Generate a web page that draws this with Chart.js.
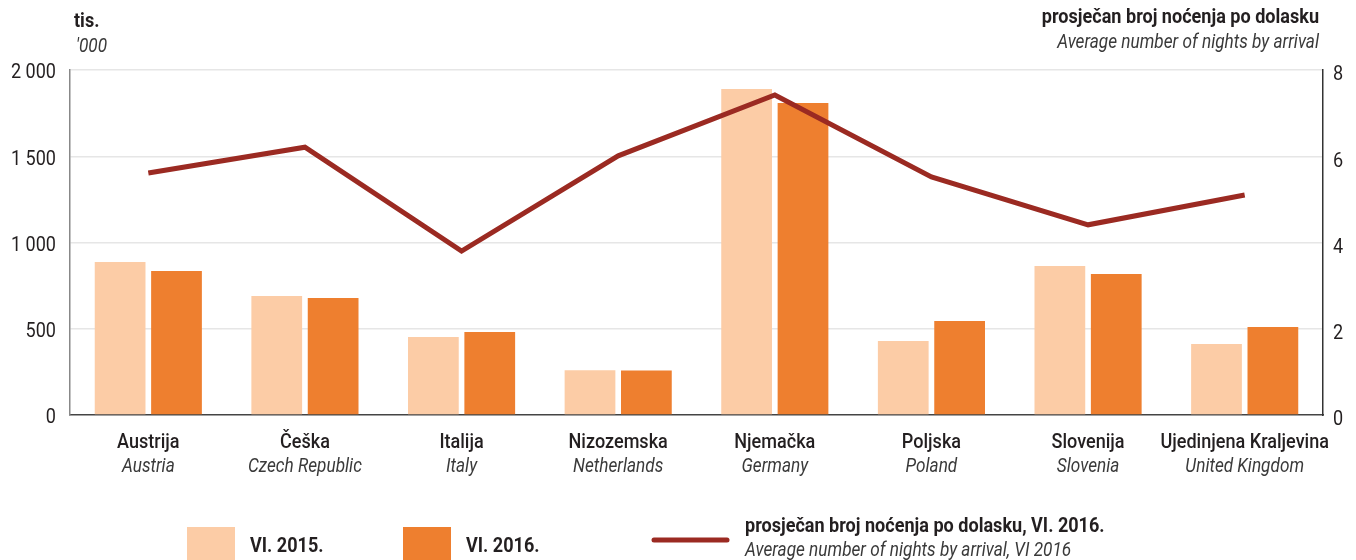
<!DOCTYPE html>
<html>
<head>
<meta charset="utf-8">
<script src="https://cdn.jsdelivr.net/npm/chart.js@4"></script>
<style>
  html, body { margin: 0; padding: 0; background: #fff; }
  #wrap { width: 1356px; height: 560px; position: relative; }
</style>
</head>
<body>
<div id="wrap"><canvas id="chart" width="1356" height="560"></canvas></div>
<script>
const categories = ['Austrija', 'Češka', 'Italija', 'Nizozemska', 'Njemačka', 'Poljska', 'Slovenija', 'Ujedinjena Kraljevina'];
const categoriesEn = ['Austria', 'Czech Republic', 'Italy', 'Netherlands', 'Germany', 'Poland', 'Slovenia', 'United Kingdom'];
const arrivals2015 = [887, 690, 452, 260, 1890, 429, 864, 412];
const arrivals2016 = [835, 678, 481, 258, 1809, 545, 817, 510];
const nightsPerArrival = [5.61, 6.21, 3.80, 6.01, 7.42, 5.52, 4.41, 5.10];
const leftTicks = [0, 500, 1000, 1500, 2000];
const rightTicks = [0, 2, 4, 6, 8];

const FONT = "Roboto, 'DejaVu Sans Condensed', sans-serif";
const TEXT = '#231f20';
const SUB = '#3a3a3a';
const LIGHT = '#fccca6';
const DARK = '#ee7f2f';
const LINE = '#9b2a22';
const SQUEEZE = 0.86;

function fmt(v) {
    return String(v).replace(/\B(?=(\d{3})+(?!\d))/g, ' ');
}

// condensed-looking text: squeeze horizontally
function txt(ctx, s, x, y, font, align, color) {
    ctx.save();
    ctx.translate(x, y);
    ctx.scale(SQUEEZE, 1);
    ctx.font = font;
    ctx.textAlign = align;
    ctx.textBaseline = 'middle';
    ctx.fillStyle = color || TEXT;
    ctx.fillText(s, 0, 0);
    ctx.restore();
}

// tick labels, x labels in two lines, axis titles and the legend
const decorations = {
    id: 'decorations',
    afterDraw(chart) {
        const ctx = chart.ctx;
        const x = chart.scales.x;
        const y = chart.scales.y;
        const y1 = chart.scales.y1;
        const area = chart.chartArea;

        leftTicks.forEach(v => {
            txt(ctx, fmt(v), 56, y.getPixelForValue(v) + 3, '21px ' + FONT, 'right');
        });
        rightTicks.forEach(v => {
            txt(ctx, String(v), 1333, y1.getPixelForValue(v) + 5, '21px ' + FONT, 'left');
        });

        categories.forEach((c, i) => {
            const px = x.getPixelForValue(i);
            txt(ctx, c, px, area.bottom + 28, '500 21px ' + FONT, 'center');
            txt(ctx, categoriesEn[i], px, area.bottom + 52, 'italic 20px ' + FONT, 'center', SUB);
        });

        // axis titles
        txt(ctx, 'tis.', 74, 22, 'bold 21px ' + FONT, 'left');
        txt(ctx, "'000", 76, 47, 'italic 20px ' + FONT, 'left', SUB);
        txt(ctx, 'prosječan broj noćenja po dolasku', 1319, 18, 'bold 21px ' + FONT, 'right');
        txt(ctx, 'Average number of nights by arrival', 1319, 43, 'italic 20px ' + FONT, 'right', SUB);

        // legend
        const ds = chart.data.datasets;
        ctx.save();
        ctx.fillStyle = ds[0].backgroundColor;
        ctx.fillRect(187, 527, 48, 40);
        ctx.fillStyle = ds[1].backgroundColor;
        ctx.fillRect(403, 527, 48, 40);
        ctx.strokeStyle = ds[2].borderColor;
        ctx.lineWidth = 5;
        ctx.lineCap = 'round';
        ctx.beginPath();
        ctx.moveTo(654, 540);
        ctx.lineTo(727, 540);
        ctx.stroke();
        ctx.restore();
        txt(ctx, ds[0].label, 250, 547, 'bold 21px ' + FONT, 'left');
        txt(ctx, ds[1].label, 466, 547, 'bold 21px ' + FONT, 'left');
        txt(ctx, ds[2].label, 745, 527, 'bold 21px ' + FONT, 'left');
        txt(ctx, 'Average number of nights by arrival, VI 2016', 745, 551, 'italic 20px ' + FONT, 'left', SUB);
    }
};

new Chart(document.getElementById('chart').getContext('2d'), {
    data: {
        labels: categories,
        datasets: [
            {
                type: 'bar',
                label: 'VI. 2015.',
                data: arrivals2015,
                backgroundColor: LIGHT,
                yAxisID: 'y',
                order: 2,
                categoryPercentage: 0.72,
                barPercentage: 0.9
            },
            {
                type: 'bar',
                label: 'VI. 2016.',
                data: arrivals2016,
                backgroundColor: DARK,
                yAxisID: 'y',
                order: 2,
                categoryPercentage: 0.72,
                barPercentage: 0.9
            },
            {
                type: 'line',
                label: 'prosječan broj noćenja po dolasku, VI. 2016.',
                data: nightsPerArrival,
                borderColor: LINE,
                borderWidth: 5,
                pointRadius: 0,
                tension: 0,
                yAxisID: 'y1',
                order: 1
            }
        ]
    },
    options: {
        responsive: false,
        animation: false,
        layout: { padding: { top: 70, left: 0, right: 0, bottom: 0 } },
        plugins: {
            legend: { display: false },
            tooltip: { enabled: false }
        },
        scales: {
            x: {
                grid: { display: false },
                border: { color: '#444', width: 1.5 },
                ticks: { display: false },
                afterFit(scale) { scale.height = 145; }
            },
            y: {
                position: 'left',
                min: 0,
                max: 2000,
                afterBuildTicks(scale) { scale.ticks = leftTicks.map(v => ({ value: v })); },
                afterFit(scale) { scale.width = 70; },
                grid: {
                    color: ctx => ctx.tick && ctx.tick.value === 0 ? 'rgba(0,0,0,0)' : '#e6e6e6',
                    lineWidth: 1.5,
                    drawTicks: false
                },
                border: { color: '#888', width: 1.5 },
                ticks: { display: false }
            },
            y1: {
                position: 'right',
                min: 0,
                max: 8,
                afterBuildTicks(scale) { scale.ticks = rightTicks.map(v => ({ value: v })); },
                afterFit(scale) { scale.width = 33; },
                grid: { display: false, drawTicks: false },
                border: { color: '#333', width: 1.5 },
                ticks: { display: false }
            }
        }
    },
    plugins: [decorations]
});
</script>
</body>
</html>
